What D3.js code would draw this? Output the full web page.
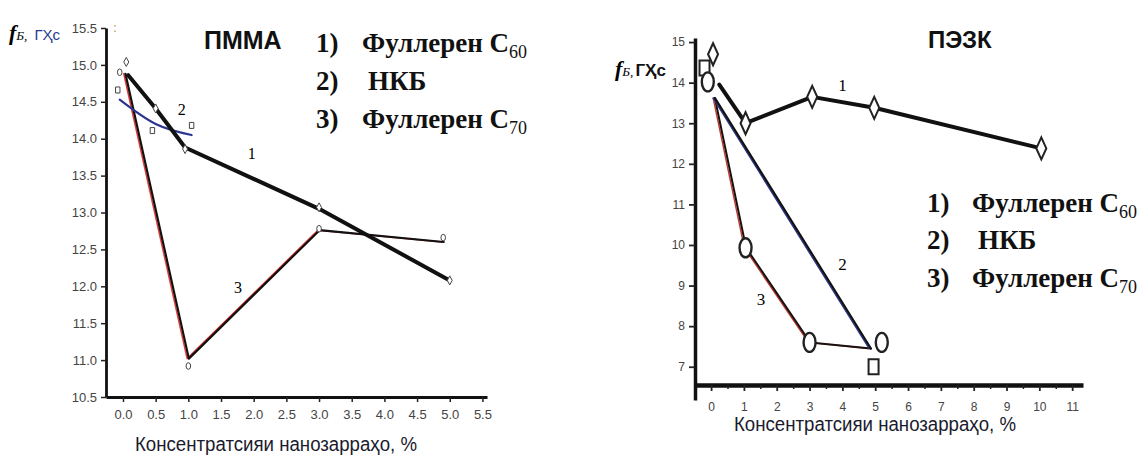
<!DOCTYPE html>
<html>
<head>
<meta charset="utf-8">
<script src="https://cdn.jsdelivr.net/npm/d3@7"></script>
<style>
body { margin: 0; background: #fff; }
svg { display: block; }
.tick text { fill: #444; font-family: "Liberation Sans", Arial, sans-serif; }
</style>
</head>
<body>
<div id="content"></div>
<script>
// Tick values of both plots.
var pmmaXTicks = [0, 0.5, 1, 1.5, 2, 2.5, 3, 3.5, 4, 4.5, 5, 5.5];
var pmmaYTicks = [10.5, 11, 11.5, 12, 12.5, 13, 13.5, 14, 14.5, 15, 15.5];
var pezkXTicks = [0, 1, 2, 3, 4, 5, 6, 7, 8, 9, 10, 11];
var pezkXMinor = [0.5, 1.5, 2.5, 3.5, 4.5, 5.5, 6.5, 7.5, 8.5, 9.5, 10.5];
var pezkYTicks = [7, 8, 9, 10, 11, 12, 13, 14, 15];

// Legend rows (number, name, subscript).
var legendNums = ['1)', '2)', '3)'];
var legendNames = ['Фуллерен C', 'НКБ', 'Фуллерен C'];
var legendSubs = ['60', '', '70'];

// ПММА: frequency, GHz vs concentration, % ([x, y]).
var pmmaC60Line = [[0.08, 14.86], [0.5, 14.41], [0.95, 13.88], [3, 13.05], [5, 12.08]];
var pmmaC60Marks = [[0.05, 15.04], [0.5, 14.41], [0.95, 13.86], [3, 13.07], [5, 12.08]];
var pmmaNkbLine = [[-0.05, 14.53], [0.5, 14.2], [1.05, 14.05]];
var pmmaNkbMarks = [[-0.08, 14.66], [0.45, 14.11], [1.05, 14.18]];
var pmmaC70Line = [[0.03, 14.88], [1.0, 11.02], [3.0, 12.76], [4.9, 12.6]];
var pmmaC70Marks = [[-0.05, 14.9], [1.0, 10.92], [3.0, 12.78], [4.9, 12.66]];
var pmmaCurveLabels = [['1', 1.97, 13.8], ['2', 0.9, 14.39], ['3', 1.76, 11.98]];

// ПЭЗК
var pezkC60Line = [[0.25, 13.95], [1.05, 13.0], [3.08, 13.65], [4.97, 13.38], [10.06, 12.38]];
var pezkC60Marks = [[0.06, 14.7], [1.05, 13.0], [3.08, 13.65], [4.97, 13.38], [10.06, 12.38]];
var pezkNkbLine = [[0.1, 13.62], [4.85, 7.45]];
var pezkNkbMarks = [[-0.2, 14.36], [4.95, 7.0]];
var pezkC70Line = [[0.1, 13.62], [1.05, 9.93], [3.0, 7.6], [4.85, 7.45]];
var pezkC70Marks = [[-0.1, 14.02], [1.05, 9.93], [3.0, 7.6], [5.2, 7.6]];
var pezkCurveLabels = [['1', 4.0, 13.94], ['2', 4.0, 9.52], ['3', 1.52, 8.66]];

var svg = d3.select('#content').append('svg')
    .attr('width', 1147).attr('height', 458);

// Marker shapes.
function diamond(w, h) { return 'M0,' + (-h) + 'L' + w + ',0L0,' + h + 'L' + (-w) + ',0Z'; }
function rectPath(w, h) { return 'M' + (-w) + ',' + (-h) + 'h' + (2 * w) + 'v' + (2 * h) + 'h' + (-2 * w) + 'Z'; }
function ellipse(rx, ry) {
  return 'M' + (-rx) + ',0A' + rx + ',' + ry + ' 0 1,0 ' + rx + ',0A' + rx + ',' + ry + ' 0 1,0 ' + (-rx) + ',0Z';
}

function drawLine(g, x, y, pts, color, w, curve, dx) {
  var line = d3.line().x(function(d) { return x(d[0]); }).y(function(d) { return y(d[1]); });
  if (curve) line.curve(curve);
  g.append('path').datum(pts).attr('d', line)
      .attr('transform', 'translate(' + (dx || 0) + ',0)')
      .attr('fill', 'none').attr('stroke', color).attr('stroke-width', w)
      .attr('stroke-linejoin', 'round').attr('stroke-linecap', 'round');
}

function drawMarks(g, x, y, pts, shape, sw, color) {
  g.selectAll(null).data(pts).enter().append('path')
      .attr('d', shape)
      .attr('transform', function(d) { return 'translate(' + x(d[0]) + ',' + y(d[1]) + ')'; })
      .attr('fill', '#fff').attr('stroke', color).attr('stroke-width', sw);
}

function drawCurveLabels(g, x, y, labels, size) {
  g.selectAll(null).data(labels).enter().append('text')
      .attr('x', function(d) { return x(d[1]); })
      .attr('y', function(d) { return y(d[2]); })
      .attr('text-anchor', 'middle').attr('dominant-baseline', 'central')
      .style('font-family', '"Liberation Serif", serif').style('font-size', size + 'px')
      .text(function(d) { return d[0]; });
}

function drawLegend(x0, xName, baselines) {
  var g = svg.append('g')
      .style('font-family', '"Liberation Serif", "Times New Roman", serif')
      .style('font-weight', 'bold').style('font-size', '27px').attr('fill', '#111');
  legendNums.forEach(function(n, i) {
    g.append('text').attr('x', x0).attr('y', baselines[i]).text(n);
    var t = g.append('text').attr('x', xName + (i === 1 ? 6 : 0)).attr('y', baselines[i]);
    t.append('tspan').text(legendNames[i]);
    if (legendSubs[i]) t.append('tspan').attr('dy', 6).style('font-size', '18px')
        .style('font-weight', 'normal').text(legendSubs[i]);
  });
}

function yLabel(x, y, fSize, unitSize, unitColor, unitWeight, gap) {
  var t = svg.append('text').attr('x', x).attr('y', y);
  t.append('tspan').style('font-family', '"Liberation Serif", serif').style('font-style', 'italic')
      .style('font-weight', 'bold').style('font-size', fSize + 'px').text('f');
  t.append('tspan').style('font-family', '"Liberation Serif", serif').style('font-style', 'italic')
      .style('font-size', (fSize * 0.6) + 'px').text('Б,');
  t.append('tspan').attr('dx', gap).style('font-family', '"Liberation Sans", Arial, sans-serif')
      .style('font-size', unitSize + 'px').style('font-weight', unitWeight)
      .attr('fill', unitColor).text('ГҲс');
}

function xLabel(cx, y) {
  svg.append('text').attr('x', cx).attr('y', y).attr('text-anchor', 'middle')
      .style('font-family', '"Liberation Sans Narrow", "Liberation Sans", sans-serif')
      .style('font-size', '20px').attr('fill', '#1b1b2e')
      .attr('textLength', 282).attr('lengthAdjust', 'spacingAndGlyphs')
      .text('Консентратсияи нанозарраҳо, %');
}

// ---------- ПММА ----------
var xL = d3.scaleLinear().domain([-0.26, 5.57]).range([106, 487]);
var yL = d3.scaleLinear().domain([10.5, 15.5]).range([397, 28]);
var gL = svg.append('g');

var axL = gL.append('g').attr('transform', 'translate(0,' + yL(10.5) + ')')
    .call(d3.axisBottom(xL).tickValues(pmmaXTicks).tickFormat(d3.format('.1f'))
        .tickSize(5).tickSizeOuter(0).tickPadding(8));
var ayL = gL.append('g').attr('transform', 'translate(' + xL(-0.26) + ',0)')
    .call(d3.axisLeft(yL).tickValues(pmmaYTicks).tickFormat(d3.format('.1f'))
        .tickSize(5).tickSizeOuter(0).tickPadding(4));
[axL, ayL].forEach(function(a) {
  a.select('.domain').attr('stroke', '#111').attr('stroke-width', 2.8);
  a.selectAll('.tick line').attr('stroke', '#222').attr('stroke-width', 1.5);
  a.selectAll('.tick text').style('font-size', '13px');
});

drawLine(gL, xL, yL, pmmaC70Line, '#e53935', 1.5, null, -1.2);
drawLine(gL, xL, yL, pmmaC70Line, '#111', 2.2, null, 0.5);
drawLine(gL, xL, yL, pmmaNkbLine, '#2a3590', 2.2, d3.curveNatural);
drawLine(gL, xL, yL, pmmaC60Line, '#111', 4);
drawMarks(gL, xL, yL, pmmaC60Marks, diamond(2.5, 4.5), 1, '#444');
drawMarks(gL, xL, yL, pmmaNkbMarks, rectPath(2.2, 3), 1, '#444');
drawMarks(gL, xL, yL, pmmaC70Marks, ellipse(2.3, 3.3), 1, '#444');
drawCurveLabels(gL, xL, yL, pmmaCurveLabels, 16);

svg.append('text').attr('x', 204).attr('y', 49)
    .style('font-family', '"Liberation Sans", Arial, sans-serif').style('font-weight', 'bold')
    .style('font-size', '25px').attr('fill', '#111').text('ПММА');
svg.append('text').attr('x', 113).attr('y', 32).attr('fill', '#c9a36a')
    .style('font-size', '14px').text(':');
yLabel(9, 40, 22, 15, '#1d3a8f', 'normal', 7);
xLabel(276, 451);
drawLegend(316, 362, [52, 90, 128]);

// ---------- ПЭЗК ----------
var xR = d3.scaleLinear().domain([-0.49, 11.33]).range([695, 1083]);
var yR = d3.scaleLinear().domain([6.55, 15.1]).range([385, 38]);
var yRAxis = yR.copy().domain([yR.invert(400), 15.1]).range([400, 38]);
var gR = svg.append('g');

var axR = gR.append('g').attr('transform', 'translate(0,' + yR(6.55) + ')')
    .call(d3.axisBottom(xR).tickValues(pezkXTicks).tickFormat(d3.format('d'))
        .tickSize(6).tickSizeOuter(0).tickPadding(11));
gR.append('g').attr('transform', 'translate(0,' + yR(6.55) + ')')
    .call(d3.axisBottom(xR).tickValues(pezkXMinor).tickFormat('').tickSize(4).tickSizeOuter(0))
    .call(function(a) {
      a.select('.domain').remove();
      a.selectAll('.tick line').attr('stroke', '#222').attr('stroke-width', 1.5);
    });
var ayR = gR.append('g').attr('transform', 'translate(' + xR(-0.49) + ',0)')
    .call(d3.axisLeft(yRAxis).tickValues(pezkYTicks).tickFormat(d3.format('d'))
        .tickSize(6).tickSizeOuter(0).tickPadding(4));
[axR, ayR].forEach(function(a) {
  a.select('.domain').attr('stroke', '#111').attr('stroke-width', 3.5);
  a.selectAll('.tick line').attr('stroke', '#222').attr('stroke-width', 1.8);
  a.selectAll('.tick text').style('font-size', '12px');
});
axR.select('.domain').attr('stroke-width', 4.5);

drawLine(gR, xR, yR, pezkC70Line, '#c0392b', 1.4, null, -1.2);
drawLine(gR, xR, yR, pezkC70Line, '#1a1010', 2, null, 0.5);
drawLine(gR, xR, yR, pezkNkbLine, '#2a3590', 1.5, null, -1.2);
drawLine(gR, xR, yR, pezkNkbLine, '#111', 2.2, null, 0.6);
drawLine(gR, xR, yR, pezkC60Line, '#111', 4);
drawMarks(gR, xR, yR, pezkC60Marks, diamond(5, 11), 2, '#222');
drawMarks(gR, xR, yR, pezkNkbMarks, rectPath(5, 7.5), 2, '#222');
drawMarks(gR, xR, yR, pezkC70Marks, ellipse(6, 9.5), 2.4, '#222');
drawCurveLabels(gR, xR, yR, pezkCurveLabels, 17);

svg.append('text').attr('x', 928).attr('y', 48)
    .style('font-family', '"Liberation Sans", Arial, sans-serif').style('font-weight', 'bold')
    .style('font-size', '24px').attr('fill', '#111').text('ПЭЗК');
yLabel(615, 76, 22, 17, '#111', 'bold', 2);
xLabel(875, 431);
drawLegend(927, 972, [212, 249, 287]);
</script>
</body>
</html>
